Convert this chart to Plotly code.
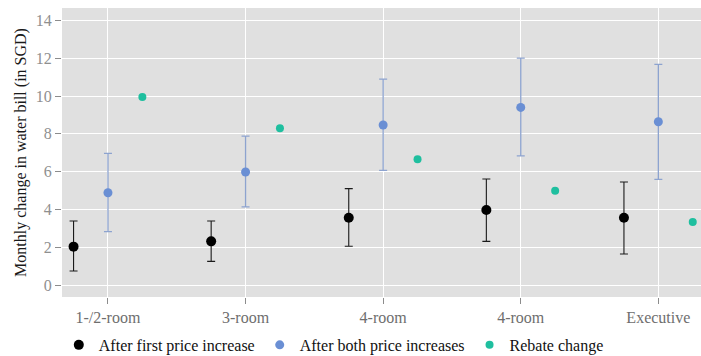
import plotly.graph_objects as go

# Dwelling types along the x axis
categories = ["1-/2-room", "3-room", "4-room", "4-room", "Executive"]

# Monthly change in water bill (SGD) with interval bounds
first_mean = [2.03, 2.31, 3.56, 3.97, 3.56]
first_low = [0.74, 1.25, 2.05, 2.31, 1.64]
first_high = [3.39, 3.39, 5.10, 5.61, 5.45]

both_mean = [4.88, 5.98, 8.47, 9.40, 8.64]
both_low = [2.82, 4.13, 6.07, 6.83, 5.59]
both_high = [6.97, 7.88, 10.90, 12.01, 11.68]

rebate = [9.95, 8.29, 6.65, 4.99, 3.33]

y_ticks = [0, 2, 4, 6, 8, 10, 12, 14]

FONT = "Liberation Serif, Times New Roman, serif"
pos = list(range(1, len(categories) + 1))
dodge = 0.25


def shifted(offset):
    return [p + offset for p in pos]


fig = go.Figure()

fig.add_trace(go.Scatter(
    x=shifted(-dodge), y=first_mean, mode="markers",
    name="After first price increase",
    marker=dict(color="#000000", size=10),
    error_y=dict(type="data", symmetric=False,
                 array=[h - m for h, m in zip(first_high, first_mean)],
                 arrayminus=[m - l for m, l in zip(first_mean, first_low)],
                 color="#1a1a1a", thickness=1.1, width=4),
))

fig.add_trace(go.Scatter(
    x=shifted(0), y=both_mean, mode="markers",
    name="After both price increases",
    marker=dict(color="#6a8fd4", size=9),
    error_y=dict(type="data", symmetric=False,
                 array=[h - m for h, m in zip(both_high, both_mean)],
                 arrayminus=[m - l for m, l in zip(both_mean, both_low)],
                 color="#8da3cf", thickness=1.3, width=4),
))

fig.add_trace(go.Scatter(
    x=shifted(dodge), y=rebate, mode="markers",
    name="Rebate change",
    marker=dict(color="#1fbf9f", size=8),
))

fig.update_layout(
    width=701, height=356,
    margin=dict(l=62, r=0, t=8, b=59, autoexpand=False),
    paper_bgcolor="#ffffff",
    plot_bgcolor="#e0e0e0",
    font=dict(family=FONT, size=16, color="#4d4d4d"),
    showlegend=True,
    legend=dict(orientation="h", x=-0.005, xanchor="left",
                y=-0.166, yanchor="middle",
                font=dict(family=FONT, size=16, color="#111111"),
                bgcolor="rgba(0,0,0,0)", itemwidth=30),
)

fig.update_xaxes(
    range=[0.666, 5.31],
    tickmode="array", tickvals=pos, ticktext=categories,
    showgrid=True, gridcolor="#ffffff", gridwidth=1.2,
    zeroline=False, showline=False,
    ticks="outside", ticklen=6, tickcolor="#8c8c8c", tickwidth=1,
    ticklabelstandoff=0,
    tickfont=dict(family=FONT, size=16, color="#6e6e6e"),
)

fig.update_yaxes(
    range=[-0.635, 14.66],
    tickmode="array", tickvals=y_ticks,
    showgrid=True, gridcolor="#ffffff", gridwidth=1.2,
    zeroline=False, showline=False,
    ticks="outside", ticklen=6, tickcolor="#8c8c8c", tickwidth=1,
    tickfont=dict(family=FONT, size=16, color="#8f8f8f"),
    title=dict(text="Monthly change in water bill (in SGD)",
               font=dict(family=FONT, size=16, color="#1a1a1a"),
               standoff=5),
)

fig.write_html("out.html")
